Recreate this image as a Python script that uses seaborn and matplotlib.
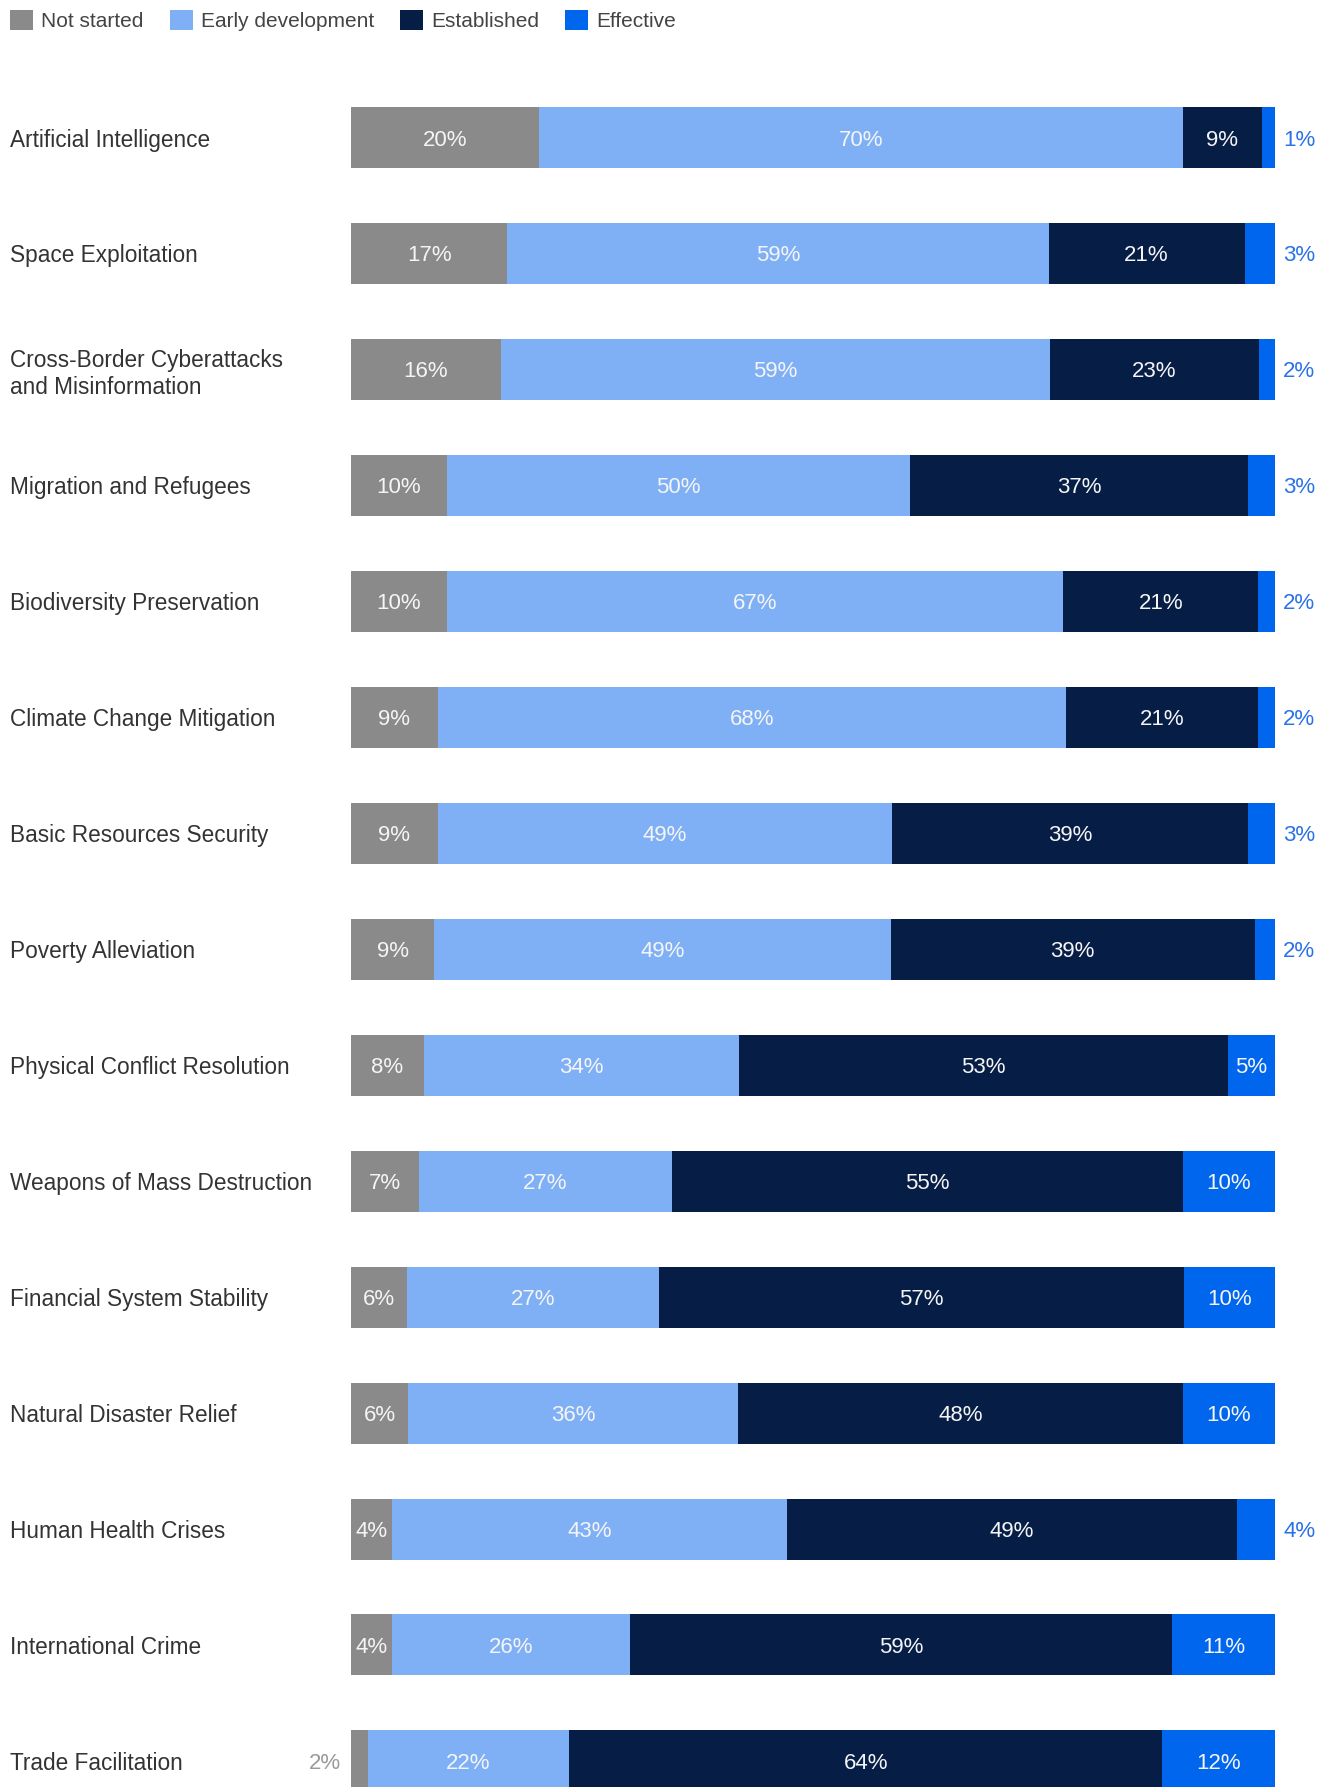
import numpy as np
import matplotlib
matplotlib.use("Agg")
import matplotlib.pyplot as plt
import seaborn as sns
from matplotlib.patches import Patch

# ---------------- data ----------------
categories = [
    "Artificial Intelligence",
    "Space Exploitation",
    "Cross-Border Cyberattacks\nand Misinformation",
    "Migration and Refugees",
    "Biodiversity Preservation",
    "Climate Change Mitigation",
    "Basic Resources Security",
    "Poverty Alleviation",
    "Physical Conflict Resolution",
    "Weapons of Mass Destruction",
    "Financial System Stability",
    "Natural Disaster Relief",
    "Human Health Crises",
    "International Crime",
    "Trade Facilitation",
]
not_started = [20.4, 16.9, 16.2, 10.4, 10.4, 9.4, 9.4, 9.0, 7.9, 7.4, 6.1, 6.2, 4.4, 4.4, 1.8]
early_development = [69.6, 58.6, 59.4, 50.1, 66.7, 68.0, 49.1, 49.4, 34.1, 27.3, 27.2, 35.7, 42.8, 25.8, 21.8]
established = [8.6, 21.2, 22.7, 36.6, 21.1, 20.8, 38.6, 39.4, 52.9, 55.3, 56.9, 48.1, 48.7, 58.7, 64.2]
effective = [1.4, 3.3, 1.7, 2.9, 1.8, 1.8, 2.9, 2.2, 5.1, 10.0, 9.8, 10.0, 4.1, 11.1, 12.2]

series_names = ["Not started", "Early development", "Established", "Effective"]
series_colors = ["#8a8a8a", "#7fb0f5", "#061d46", "#0066ee"]

# ---------------- style ----------------
sns.set_theme(style="white")
plt.rcParams["font.family"] = ["Liberation Sans", "DejaVu Sans"]

W, H = 1330, 1787
fig = plt.figure(figsize=(W / 100, H / 100), dpi=100)
ax = fig.add_axes([351 / W, 0, 924 / W, 1])

values = np.array([not_started, early_development, established, effective])
cum = np.cumsum(values, axis=0)
n = len(categories)

# stacked bars: draw cumulative totals from the longest to the shortest
for k in range(len(series_names) - 1, -1, -1):
    sns.barplot(x=cum[k], y=categories, orient="h", color=series_colors[k],
                saturation=1, width=0.526, linewidth=0, errorbar=None, ax=ax)

ax.set_xlim(0, 100)
row_px = 115.96
top_px = 137.5
ax.set_ylim((H - top_px) / row_px, -top_px / row_px)

for s in ax.spines.values():
    s.set_visible(False)
ax.set_xticks([])
ax.set_xlabel("")
ax.set_ylabel("")
ax.tick_params(axis="y", length=0, pad=341 * 0.72, labelsize=16.3, labelcolor="#333333")
for t in ax.get_yticklabels():
    t.set_ha("left")
    t.set_linespacing(1.25)

# value labels
fs = 16
for i in range(n):
    left = 0.0
    for k in range(4):
        v = values[k, i]
        lab = f"{int(round(v))}%"
        if k == 3 and v < 5:
            ax.annotate(lab, xy=(left + v, i), xytext=(6, 0), textcoords="offset points",
                        ha="left", va="center_baseline", fontsize=fs, color="#2a72e6")
        elif k == 0 and v < 3:
            ax.annotate(lab, xy=(left, i), xytext=(-7, 0), textcoords="offset points",
                        ha="right", va="center_baseline", fontsize=fs, color="#9a9a9a")
        else:
            ax.text(left + v / 2, i, lab, ha="center", va="center_baseline",
                    fontsize=fs, color="#f5f5f5")
        left += v

# legend
handles = [Patch(facecolor=c, edgecolor="none", label=s) for s, c in zip(series_names, series_colors)]
fig.legend(handles=handles, loc="upper left", bbox_to_anchor=(10 / W, 1 - 10 / H), ncol=4,
           frameon=False, fontsize=15, handlelength=1.1, handleheight=1.1,
           handletextpad=0.4, columnspacing=1.25, borderpad=0, borderaxespad=0,
           labelcolor="#444444")

fig.savefig("out.png", dpi=100)
